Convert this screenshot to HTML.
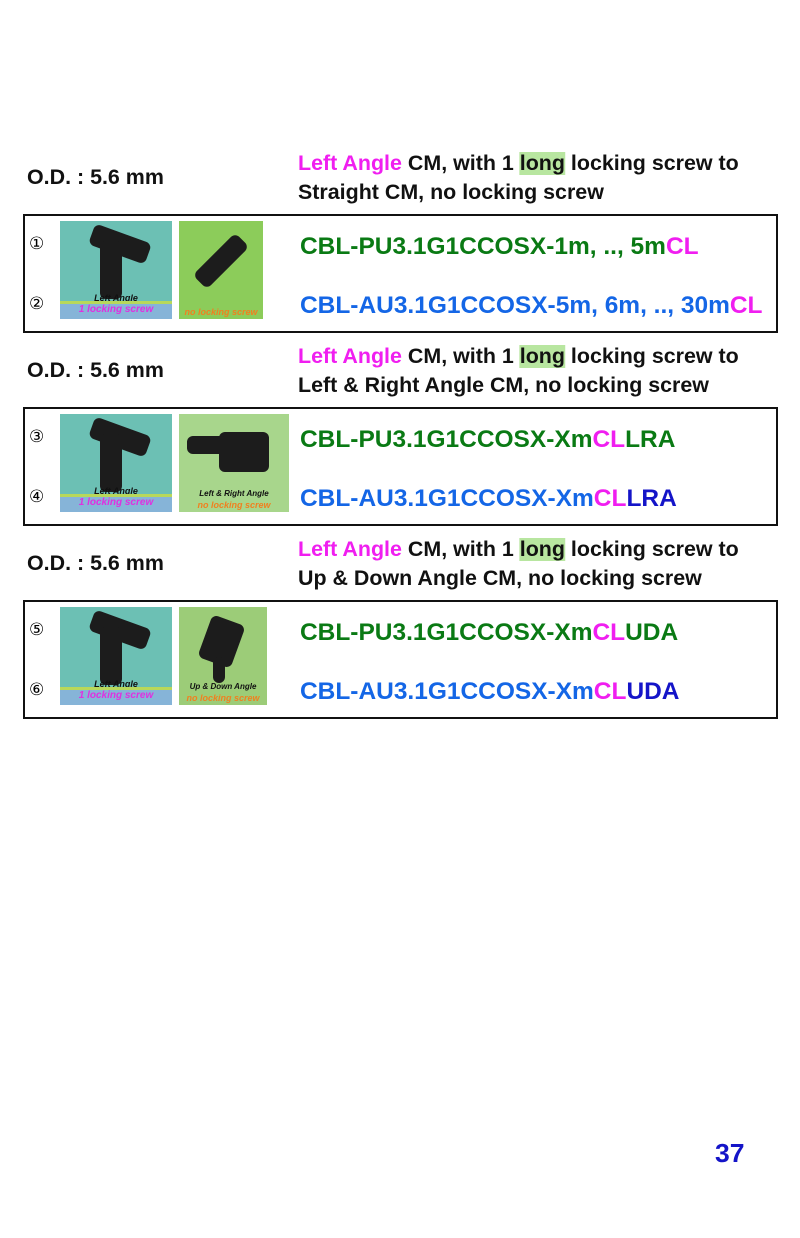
<!DOCTYPE html>
<html><head><meta charset="utf-8"><style>
body{margin:0;width:800px;height:1238px;background:#fff;position:relative;font-family:"Liberation Sans",Arial,sans-serif;font-weight:bold;overflow:hidden}
.t{position:absolute;white-space:nowrap;transform:scaleX(1.02);transform-origin:left top}
.od{font-size:21px;color:#111}
.hd{font-size:21px;color:#111;line-height:29px}
.m{color:#f01ef0}.hl{background:#b8e6a0}
.box{position:absolute;left:23px;width:751px;height:115px;border:2px solid #111}
.pn{font-size:24px}
.g{color:#0a7a14}.b{color:#1466e6}.db{color:#1414c8}
.num{position:absolute;font-size:17px;font-weight:normal;font-family:"DejaVu Sans",sans-serif;left:4px}
.img1{position:absolute;left:35px;top:5px;width:112px;height:98px;background:#6cc0b4}
.img1 .lbl{position:absolute;bottom:16px;width:100%;text-align:center;font-size:9px;font-style:italic;color:#111}
.img1 .bar{position:absolute;bottom:0;width:100%;height:15px;background:#86b4d8;border-top:3px solid #b8d85a;text-align:center;font-size:10px;font-style:italic;color:#e030e0}
.img2{position:absolute;left:154px;top:5px;height:98px;background:#8ccc5a}
.img2 .lbl{position:absolute;bottom:14px;width:100%;text-align:center;font-size:8px;font-style:italic;color:#111}
.img2 .o{position:absolute;bottom:2px;width:100%;text-align:center;font-size:9px;font-style:italic;color:#f08020}
.plug{position:absolute;background:#1c1c1c;border-radius:6px}
</style></head><body>

<div class="t od" style="left:27px;top:166px">O.D. : 5.6 mm</div>
<div class="t hd" style="left:298px;top:149px"><span class="m">Left Angle</span> CM, with 1 <span class="hl">long</span> locking screw to<br>Straight CM, no locking screw</div>
<div class="box" style="top:214px">
 <div class="num" style="top:18px">①</div><div class="num" style="top:78px">②</div>
 <div class="img1"><div class="plug" style="left:30px;top:12px;width:60px;height:22px;transform:rotate(20deg)"></div><div class="plug" style="left:40px;top:20px;width:22px;height:58px"></div><div class="lbl">Left Angle</div><div class="bar">1 locking screw</div></div>
 <div class="img2" style="width:84px"><div class="plug" style="left:12px;top:30px;width:60px;height:20px;transform:rotate(-45deg)"></div><div class="o">no locking screw</div></div>
 <div class="t pn g" style="left:275px;top:17px">CBL-PU3.1G1CCOSX-1m, .., 5m<span class="m">CL</span></div>
 <div class="t pn b" style="left:275px;top:76px">CBL-AU3.1G1CCOSX-5m, 6m, .., 30m<span class="m">CL</span></div>
</div>

<div class="t od" style="left:27px;top:359px">O.D. : 5.6 mm</div>
<div class="t hd" style="left:298px;top:342px"><span class="m">Left Angle</span> CM, with 1 <span class="hl">long</span> locking screw to<br>Left &amp; Right Angle CM, no locking screw</div>
<div class="box" style="top:407px">
 <div class="num" style="top:18px">③</div><div class="num" style="top:78px">④</div>
 <div class="img1"><div class="plug" style="left:30px;top:12px;width:60px;height:22px;transform:rotate(20deg)"></div><div class="plug" style="left:40px;top:20px;width:22px;height:58px"></div><div class="lbl">Left Angle</div><div class="bar">1 locking screw</div></div>
 <div class="img2" style="width:110px;background:#a8d68c"><div class="plug" style="left:40px;top:18px;width:50px;height:40px"></div><div class="plug" style="left:8px;top:22px;width:40px;height:18px"></div><div class="lbl">Left &amp; Right Angle</div><div class="o">no locking screw</div></div>
 <div class="t pn g" style="left:275px;top:17px">CBL-PU3.1G1CCOSX-Xm<span class="m">CL</span>LRA</div>
 <div class="t pn b" style="left:275px;top:76px">CBL-AU3.1G1CCOSX-Xm<span class="m">CL</span><span class="db">LRA</span></div>
</div>

<div class="t od" style="left:27px;top:552px">O.D. : 5.6 mm</div>
<div class="t hd" style="left:298px;top:535px"><span class="m">Left Angle</span> CM, with 1 <span class="hl">long</span> locking screw to<br>Up &amp; Down Angle CM, no locking screw</div>
<div class="box" style="top:600px">
 <div class="num" style="top:18px">⑤</div><div class="num" style="top:78px">⑥</div>
 <div class="img1"><div class="plug" style="left:30px;top:12px;width:60px;height:22px;transform:rotate(20deg)"></div><div class="plug" style="left:40px;top:20px;width:22px;height:58px"></div><div class="lbl">Left Angle</div><div class="bar">1 locking screw</div></div>
 <div class="img2" style="width:88px;background:#9ccc78"><div class="plug" style="left:25px;top:12px;width:35px;height:45px;transform:rotate(20deg)"></div><div class="plug" style="left:34px;top:50px;width:12px;height:26px"></div><div class="lbl">Up &amp; Down Angle</div><div class="o">no locking screw</div></div>
 <div class="t pn g" style="left:275px;top:17px">CBL-PU3.1G1CCOSX-Xm<span class="m">CL</span>UDA</div>
 <div class="t pn b" style="left:275px;top:76px">CBL-AU3.1G1CCOSX-Xm<span class="m">CL</span><span class="db">UDA</span></div>
</div>

<div class="t" style="left:715px;top:1138px;font-size:26px;color:#1414c8">37</div>
</body></html>
